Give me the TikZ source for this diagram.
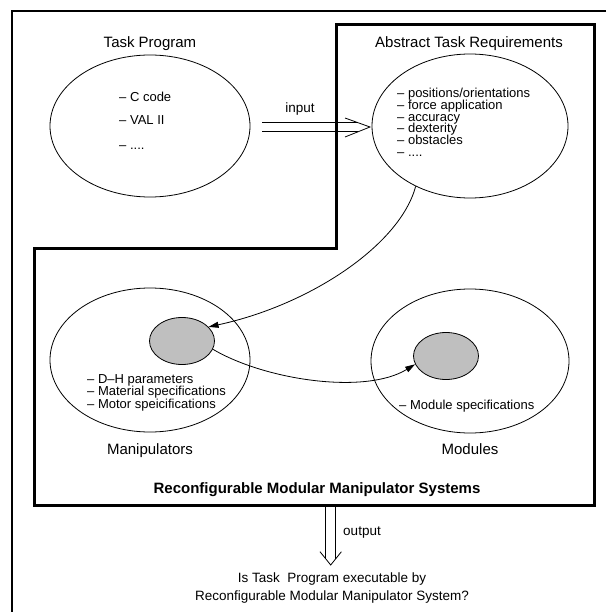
\documentclass[tikz,border=0pt]{standalone}
\usepackage{fontspec}
\setmainfont{Liberation Sans}
\usetikzlibrary{shapes.geometric,arrows.meta}
\begin{document}
\begin{tikzpicture}[x=1pt,y=-1pt,
  oval/.style={draw, ellipse, line width=0.8pt, inner sep=0pt},
  grayoval/.style={oval, fill=black!25},
  head/.style={font=\fontsize{15}{18}\selectfont, inner sep=0pt},
  item/.style={font=\fontsize{13}{15}\selectfont, anchor=base west, inner sep=0pt},
  lbl/.style={font=\fontsize{13.5}{16}\selectfont, inner sep=0pt},
  frameline/.style={line width=1.8pt},
  boxline/.style={line width=3pt},
  conn/.style={line width=0.8pt},
  tip/.style={-{Triangle[length=10pt,width=6pt]}},
]
\useasboundingbox (0,0) rectangle (606,612);

% outer frame (open to right and bottom)
\draw[frameline] (606,11) -- (12,11) -- (12,612);

% thick stepped box
\draw[boxline] (336,25) -- (594,25) -- (594,505) -- (34,505) -- (34,248) -- (336,248) -- cycle;

% headings
\node[head] (tptitle) at (150,44) {Task Program};
\node[head] (abtitle) at (469,44) {Abstract Task Requirements};

% top ellipses
\node[oval, minimum width=200pt, minimum height=142pt] (tp) at (150,126) {};
\node[oval, minimum width=196pt, minimum height=144pt] (ab) at (470,126) {};

% left list
\node[item] (c1) at (119,102) {– C code};
\node[item] (c2) at (119,125) {– VAL II};
\node[item] (c3) at (119,150) {– ....};

% right list
\node[item] (r1) at (397,97.5) {– positions/orientations};
\node[item] (r2) at (397,109.3) {– force application};
\node[item] (r3) at (397,121.1) {– accuracy};
\node[item] (r4) at (397,132.9) {– dexterity};
\node[item] (r5) at (397,144.7) {– obstacles};
\node[item] (r6) at (397,156.5) {– ....};

% input double arrow
\coordinate (ia1) at (262,122.5);
\coordinate (ia2) at (262,131.5);
\coordinate (ib1) at (357.5,122.5);
\coordinate (ib2) at (357.5,131.5);
\coordinate (ih1) at (345,118);
\coordinate (ih2) at (345,137);
\coordinate (itip) at (370,127);
\draw[conn] (ia1) -- (ib1);
\draw[conn] (ia2) -- (ib2);
\draw[conn] (ih1) -- (itip) -- (ih2);
\node[lbl] (inlbl) at (300,109) {input};

% bottom ellipses
\node[oval, minimum width=200pt, minimum height=144pt] (man) at (150,360) {};
\node[oval, minimum width=198pt, minimum height=144pt] (mod) at (470,361) {};
\node[grayoval, minimum width=65pt, minimum height=47pt] (g1) at (182,341) {};
\node[grayoval, minimum width=65pt, minimum height=47pt] (g2) at (446,356) {};

% bottom lists
\node[item] (m1) at (87,383) {– D–H parameters};
\node[item] (m2) at (87,395.5) {– Material specifications};
\node[item] (m3) at (87,408) {– Motor speicifications};
\node[item] (d1) at (399,409) {– Module specifications};

\node[head] (manlbl) at (150,451) {Manipulators};
\node[head] (modlbl) at (470,449) {Modules};
\node[head, font=\fontsize{15}{18}\selectfont\bfseries] (sys) at (317,490) {Reconfigurable Modular Manipulator Systems};

% curved connectors
\draw[conn, tip] (ab.228) .. controls (400,245) and (310,305) .. (g1.28);
\draw[conn, tip] (g1.-15) .. controls (265,380) and (365,395) .. (g2.195);

% output double arrow
\coordinate (oa1) at (325.7,505);
\coordinate (oa2) at (335.7,505);
\coordinate (ob1) at (325.7,558.8);
\coordinate (ob2) at (335.7,558.8);
\coordinate (oh1) at (320,551.7);
\coordinate (oh2) at (341.4,551.7);
\coordinate (otip) at (330.7,565);
\draw[conn] (oa1) -- (ob1);
\draw[conn] (oa2) -- (ob2);
\draw[conn] (oh1) -- (otip) -- (oh2);
\node[lbl] (outlbl) at (362,533) {output};

\node[lbl] (q1) at (332,579) {Is Task~ Program executable by};
\node[lbl] (q2) at (332,597) {Reconfigurable Modular Manipulator System?};
\end{tikzpicture}
\end{document}
